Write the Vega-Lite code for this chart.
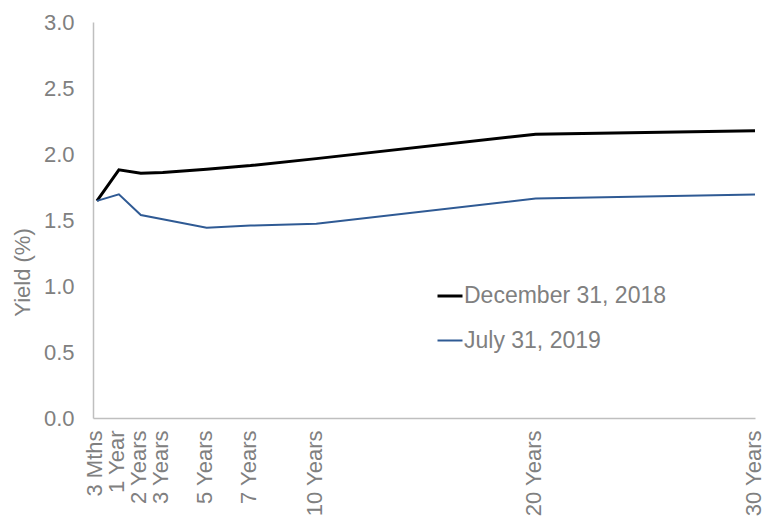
{
  "$schema": "https://vega.github.io/schema/vega-lite/v6.json",
  "autosize": {"type": "none"},
  "width": 662,
  "height": 396,
  "padding": {"left": 93, "top": 22, "right": 9, "bottom": 103},
  "background": "white",
  "config": {
    "view": {"stroke": null},
    "font": "Liberation Sans",
    "axis": {"labelFont": "Liberation Sans", "titleFont": "Liberation Sans"},
    "legend": {"labelFont": "Liberation Sans"}
  },
  "data": {
    "values": [
      {"m": 0, "series": "December 31, 2018", "y": 1.645},
      {"m": 1, "series": "December 31, 2018", "y": 1.88},
      {"m": 2, "series": "December 31, 2018", "y": 1.855},
      {"m": 3, "series": "December 31, 2018", "y": 1.86},
      {"m": 5, "series": "December 31, 2018", "y": 1.885},
      {"m": 7, "series": "December 31, 2018", "y": 1.912},
      {"m": 10, "series": "December 31, 2018", "y": 1.965},
      {"m": 20, "series": "December 31, 2018", "y": 2.15},
      {"m": 30, "series": "December 31, 2018", "y": 2.176},
      {"m": 0, "series": "July 31, 2019", "y": 1.645},
      {"m": 1, "series": "July 31, 2019", "y": 1.695},
      {"m": 2, "series": "July 31, 2019", "y": 1.538},
      {"m": 3, "series": "July 31, 2019", "y": 1.505},
      {"m": 5, "series": "July 31, 2019", "y": 1.442},
      {"m": 7, "series": "July 31, 2019", "y": 1.458},
      {"m": 10, "series": "July 31, 2019", "y": 1.472},
      {"m": 20, "series": "July 31, 2019", "y": 1.662},
      {"m": 30, "series": "July 31, 2019", "y": 1.694}
    ]
  },
  "mark": {"type": "line", "interpolate": "linear"},
  "encoding": {
    "x": {
      "field": "m",
      "type": "quantitative",
      "scale": {"domain": [-0.18, 30], "nice": false, "zero": false},
      "axis": {
        "title": null,
        "values": [0, 1, 2, 3, 5, 7, 10, 20, 30],
        "labelExpr": "datum.value == 0 ? '3 Mths' : datum.value == 1 ? '1 Year' : datum.value + ' Years'",
        "labelAngle": -90,
        "labelAlign": "right",
        "labelBaseline": "middle",
        "labelPadding": 12,
        "labelOffset": -2,
        "labelFontSize": 22,
        "labelColor": "#808080",
        "labelOverlap": false,
        "labelFlush": false,
        "labelBound": false,
        "ticks": false,
        "grid": false,
        "domainColor": "#bfbfbf",
        "domainWidth": 1.5
      }
    },
    "y": {
      "field": "y",
      "type": "quantitative",
      "scale": {"domain": [0, 3], "nice": false},
      "axis": {
        "title": "Yield (%)",
        "values": [0, 0.5, 1, 1.5, 2, 2.5, 3],
        "format": ".1f",
        "labelFontSize": 22,
        "labelColor": "#808080",
        "labelPadding": 19,
        "ticks": false,
        "grid": false,
        "domainColor": "#bfbfbf",
        "domainWidth": 1.5,
        "titleFontSize": 22,
        "titleFontWeight": "normal",
        "titleColor": "#808080",
        "titleX": -59,
        "titleY": 250,
        "titleAngle": 270,
        "titleAlign": "center",
        "titleBaseline": "bottom"
      }
    },
    "color": {
      "field": "series",
      "type": "nominal",
      "sort": ["December 31, 2018", "July 31, 2019"],
      "scale": {"domain": ["December 31, 2018", "July 31, 2019"], "range": ["#000000", "#2f5a94"]},
      "legend": {
        "title": null,
        "orient": "none",
        "legendX": 343,
        "legendY": 260,
        "symbolType": "stroke",
        "symbolSize": 625,
        "symbolStrokeWidth": 2.5,
        "labelFontSize": 23,
        "labelColor": "#808080",
        "labelOffset": 0,
        "labelLimit": 400,
        "rowPadding": 19,
        "padding": 0
      }
    },
    "strokeWidth": {
      "field": "series",
      "type": "nominal",
      "sort": ["December 31, 2018", "July 31, 2019"],
      "scale": {"domain": ["December 31, 2018", "July 31, 2019"], "range": [3, 2]},
      "legend": null
    }
  }
}
